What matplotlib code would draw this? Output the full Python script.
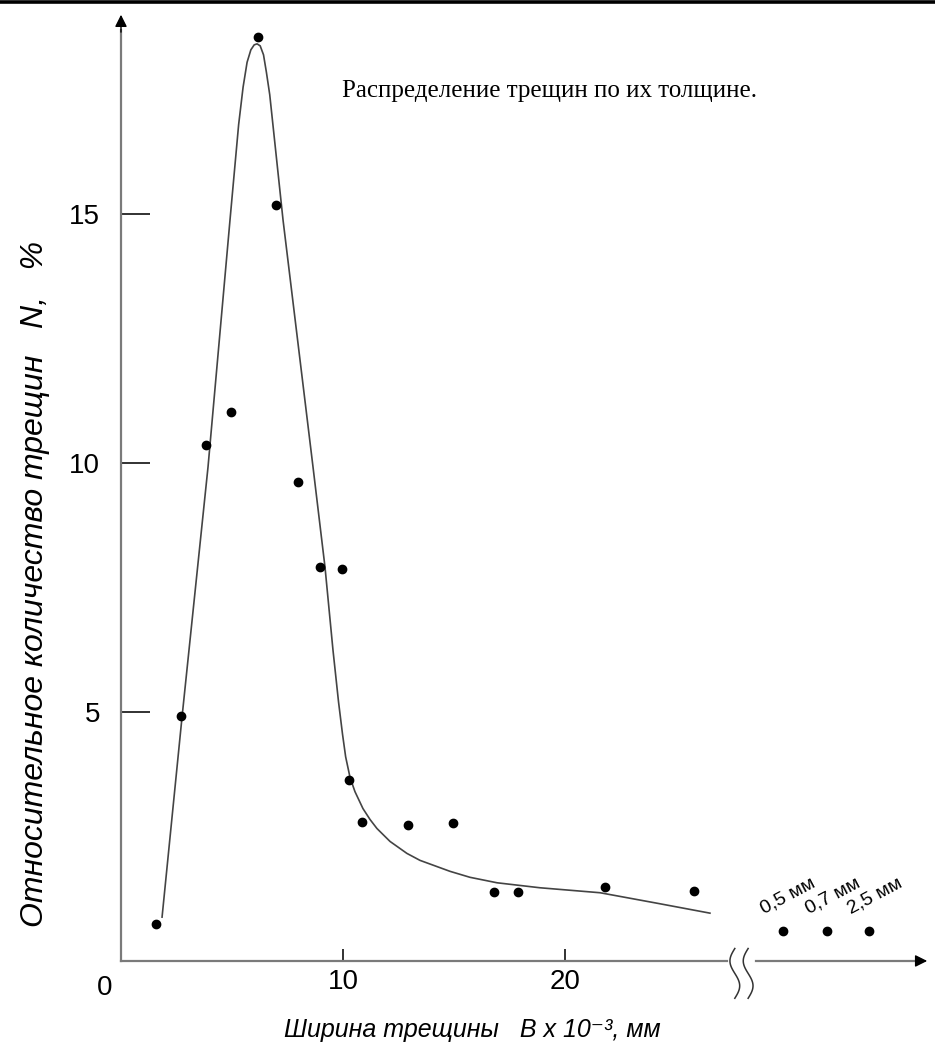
import numpy as np
import matplotlib.pyplot as plt
from matplotlib.lines import Line2D

# measured points: crack width B (x 10^-3 mm) vs relative number N, %
B = [1.58, 2.7, 3.83, 4.95, 6.17, 6.98, 7.97, 8.96, 9.95, 10.27, 10.86,
     12.93, 14.95, 16.8, 17.9, 21.8, 25.8]
N = [0.74, 4.92, 10.36, 11.02, 18.55, 15.18, 9.62, 7.91, 7.87, 3.63, 2.79,
     2.73, 2.77, 1.39, 1.39, 1.49, 1.41]

# hand-drawn trend curve
curve_B = [1.85, 2.75, 3.92, 4.91, 5.30, 5.50, 5.68, 5.85, 6.00, 6.13, 6.27,
           6.42, 6.55, 6.70, 7.30, 8.65, 9.19, 9.55, 9.80, 9.98, 10.12, 10.32,
           10.54, 10.90, 11.22, 11.53, 12.12, 12.88, 13.47, 14.82, 15.72,
           16.94, 18.87, 21.58, 24.14, 26.53]
curve_N = [0.88, 4.90, 9.92, 14.88, 16.80, 17.55, 18.05, 18.30, 18.40, 18.42,
           18.38, 18.20, 17.85, 17.40, 14.88, 9.92, 7.91, 6.24, 5.20, 4.55,
           4.10, 3.68, 3.40, 3.06, 2.84, 2.66, 2.40, 2.16, 2.02, 1.80, 1.68,
           1.57, 1.47, 1.37, 1.16, 0.96]

# wide cracks beyond the axis break
far_labels = ['0,5 мм', '0,7 мм', '2,5 мм']
far_N = [0.6, 0.6, 0.6]
far_pos = [29.8, 31.8, 33.7]

yticks = [5, 10, 15]
xticks = [10, 20]

fig = plt.figure(figsize=(9.35, 10.61), dpi=100)
ax = fig.add_axes([0.1294, 0.0943, 0.8652, 0.8944])
ax.set_xlim(0, 36.44)
ax.set_ylim(0, 19.06)
for s in ax.spines.values():
    s.set_visible(False)

sans = ['Liberation Sans', 'DejaVu Sans']
axis_col = '#7a7a7a'

# axes drawn by hand (arrows + break in x axis)
ax.plot([0, 0], [0, 18.7], color=axis_col, lw=1.6, clip_on=False)
ax.annotate('', xy=(0, 19.06), xytext=(0, 18.6),
            arrowprops=dict(arrowstyle='-|>', color='black', lw=1, mutation_scale=18),
            annotation_clip=False)
ax.plot([0, 27.3], [0, 0], color=axis_col, lw=1.6, clip_on=False)
ax.plot([28.6, 36.0], [0, 0], color=axis_col, lw=1.6, clip_on=False)
ax.annotate('', xy=(36.44, 0), xytext=(35.9, 0),
            arrowprops=dict(arrowstyle='-|>', color='black', lw=1, mutation_scale=18),
            annotation_clip=False)

# break marks (two wavy strokes)
t = np.linspace(-1, 1, 40)
for x0 in [27.65, 28.25]:
    ax.plot(x0 + 0.22 * np.sin(np.pi * t), -0.25 - 0.5 * t,
            color='#333333', lw=1.1, clip_on=False)

ax.set_xticks(xticks)
ax.set_yticks(yticks)
ax.tick_params(axis='y', direction='in', length=21, width=1.3, color='#222222',
               pad=15, labelsize=20)
ax.tick_params(axis='x', direction='in', length=9, width=1.3, color='#222222',
               pad=6, labelsize=20)
for lab in ax.get_xticklabels() + ax.get_yticklabels():
    lab.set_family(sans)
ax.annotate('0', xy=(0, 0), xytext=(-12, -10), textcoords='offset points',
            ha='center', va='top', fontsize=20, family=sans)

ax.plot(curve_B, curve_N, color='#444444', lw=1.2)
ax.plot(B, N, 'ko', ms=6)
ax.plot(far_pos, far_N, 'ko', ms=6, clip_on=False)
for xp, yp, lab in zip(far_pos, far_N, far_labels):
    ax.annotate(lab, xy=(xp, yp), xytext=(-12, 10), textcoords='offset points',
                rotation=28, rotation_mode='anchor', ha='left', va='bottom',
                fontsize=14, family=sans, annotation_clip=False)

ax.text(9.95, 17.47, 'Распределение трещин по их толщине.', ha='left', va='center',
        fontsize=18, family=['Liberation Serif', 'DejaVu Serif'])

fig.text(0.037, 0.45, 'Относительное количество трещин   N,   %', rotation=90,
         ha='center', va='center', fontsize=23, style='italic', family=sans)
fig.text(0.505, 0.029, 'Ширина трещины   B x 10\u207b\u00b3, мм', ha='center', va='center',
         fontsize=18, style='italic', family=sans)

# thick rule along the top edge
fig.add_artist(Line2D([0, 1], [0.9985, 0.9985], color='black', lw=2.6,
                      transform=fig.transFigure))

fig.savefig('out.png', dpi=100)
